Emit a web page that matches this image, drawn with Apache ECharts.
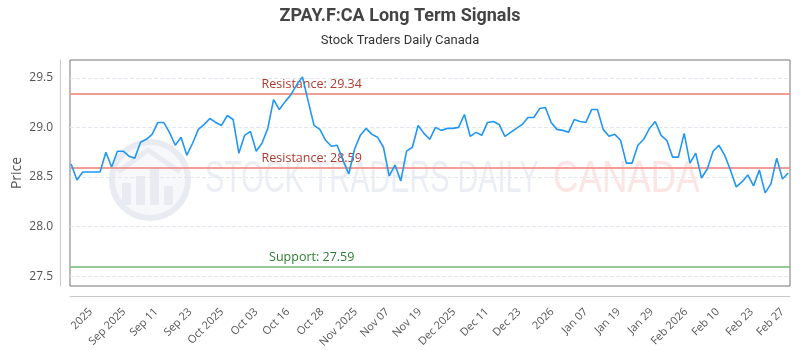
<!DOCTYPE html>
<html>
<head>
<meta charset="utf-8">
<script src="https://cdn.jsdelivr.net/npm/echarts@6/dist/echarts.min.js"></script>
<style>html,body{margin:0;padding:0;background:#fff}#c{width:800px;height:350px}</style>
</head>
<body>
<div id="c"></div>
<script>
// Daily closing prices (index 0..124)
const prices = [
28.63,28.47,28.55,28.55,28.55,28.55,28.75,28.60,28.76,28.76,
28.71,28.69,28.85,28.88,28.93,29.05,29.05,28.95,28.82,28.90,
28.72,28.84,28.98,29.03,29.09,29.05,29.02,29.12,29.08,28.74,
28.92,28.96,28.76,28.84,28.99,29.28,29.18,29.26,29.33,29.43,
29.51,29.26,29.02,28.98,28.87,28.81,28.82,28.67,28.53,28.78,
28.92,28.99,28.93,28.90,28.80,28.51,28.62,28.46,28.76,28.80,
29.02,28.94,28.88,29.00,28.97,28.99,28.99,29.00,29.13,28.91,
28.95,28.92,29.05,29.06,29.03,28.91,28.95,28.99,29.03,29.10,
29.10,29.19,29.20,29.05,28.98,28.97,28.95,29.08,29.06,29.05,
29.18,29.18,28.98,28.91,28.93,28.87,28.64,28.64,28.82,28.88,
28.99,29.06,28.92,28.87,28.70,28.70,28.94,28.64,28.74,28.49,
28.58,28.76,28.82,28.72,28.57,28.40,28.45,28.52,28.41,28.57,
28.34,28.43,28.69,28.48,28.54
];
// X-axis tick labels and their positions (in data index units)
const xTickLabels = ["2025","Sep 2025","Sep 11","Sep 23","Oct 2025","Oct 03","Oct 16","Oct 28","Nov 2025","Nov 07","Nov 19","Dec 2025","Dec 11","Dec 23","2026","Jan 07","Jan 19","Jan 29","Feb 2026","Feb 10","Feb 23","Feb 27"];
const xTickPos = [3.4,9.15,14.7,20.6,26.1,32.0,37.5,43.4,49.2,54.7,60.3,66.2,71.9,77.5,83.2,89.0,94.7,100.4,106.3,111.8,117.7,123.0];
// Y-axis ticks
const yTicks = [27.5,28.0,28.5,29.0,29.5];
// Signal levels
const resistanceLevels = [29.34, 28.59];
const supportLevels = [27.59];
const title = "ZPAY.F:CA Long Term Signals";
const subtitle = "Stock Traders Daily Canada";

const data = prices.map((v, i) => [i, v]);
const labelIdx = 41.6;

const chart = echarts.init(document.getElementById('c'), null, {renderer: 'canvas'});

const markLineData = [];
const markPointData = [];
resistanceLevels.forEach(v => {
  markLineData.push({yAxis: v, lineStyle: {color: '#f4928c', width: 2, type: 'solid', opacity: 0.9}});
  markPointData.push({coord: [labelIdx, v], value: 'Resistance: ' + v.toFixed(2), label: {color: '#b03a2e'}});
});
supportLevels.forEach(v => {
  markLineData.push({yAxis: v, lineStyle: {color: '#8cc38c', width: 2, type: 'solid', opacity: 0.9}});
  markPointData.push({coord: [labelIdx, v], value: 'Support: ' + v.toFixed(2), label: {color: '#2e7d32'}});
});

const option = {
  backgroundColor: '#fff',
  animation: false,
  title: {
    text: title,
    subtext: subtitle,
    left: 'center',
    top: 2,
    itemGap: 9,
    textStyle: {fontFamily: '"Liberation Sans Narrow", "Roboto", sans-serif', fontSize: 18, fontWeight: 'bold', color: '#444'},
    subtextStyle: {fontFamily: '"Liberation Sans Narrow", "Roboto", sans-serif', fontSize: 13, color: '#333'}
  },
  graphic: [
    {type: 'group', silent: true, z: -1, children: [
      {type: 'circle', shape: {cx: 150, cy: 180, r: 38}, style: {fill: '#f6f8fb', stroke: '#e8ecf2', lineWidth: 6}},
      {type: 'rect', shape: {x: 122, y: 183, width: 9, height: 22}, style: {fill: '#e8ecf2'}},
      {type: 'rect', shape: {x: 136, y: 176, width: 9, height: 29}, style: {fill: '#e8ecf2'}},
      {type: 'rect', shape: {x: 150, y: 169, width: 9, height: 36}, style: {fill: '#e8ecf2'}},
      {type: 'rect', shape: {x: 164, y: 186, width: 9, height: 19}, style: {fill: '#e8ecf2'}},
      {type: 'polyline', shape: {points: [[118,172],[148,150],[180,172]]}, style: {stroke: '#e8ecf2', lineWidth: 5, fill: 'none'}},
      {type: 'text', x: 205, y: 180, scaleX: 0.655, style: {text: 'STOCK TRADERS DAILY', font: '44px "Liberation Sans Narrow", sans-serif', fill: '#ebeef4', verticalAlign: 'middle', align: 'left'}},
      {type: 'text', x: 553, y: 180, scaleX: 0.8, style: {text: 'CANADA', font: '44px "Liberation Sans Narrow", sans-serif', fill: '#fde5e5', verticalAlign: 'middle', align: 'left'}}
    ]},
    {type: 'line', silent: true, shape: {x1: 60.5, y1: 60, x2: 60.5, y2: 286}, style: {stroke: '#c8c8c8', lineWidth: 1}},
    {type: 'line', silent: true, shape: {x1: 70, y1: 296.5, x2: 790, y2: 296.5}, style: {stroke: '#c8c8c8', lineWidth: 1}}
  ],
  grid: {left: 70, right: 10, top: 60, bottom: 64, show: true, borderColor: '#777', borderWidth: 1, backgroundColor: 'transparent', containLabel: false, outerBoundsMode: 'none'},
  xAxis: {
    type: 'value',
    min: -0.2,
    max: 124.3,
    offset: 10,
    axisLine: {show: true, onZero: false, lineStyle: {color: '#c8c8c8', width: 1}},
    axisTick: {show: false},
    splitLine: {show: false},
    axisLabel: {
      customValues: xTickPos,
      rotate: 45,
      margin: 14,
      fontFamily: '"Open Sans", sans-serif',
      fontSize: 11,
      color: '#555',
      formatter: (v) => { const k = xTickPos.indexOf(v); return k >= 0 ? xTickLabels[k] : ''; }
    }
  },
  yAxis: {
    type: 'value',
    min: 27.4,
    max: 29.68,
    offset: 10,
    name: 'Price',
    nameLocation: 'middle',
    nameGap: 36,
    nameMoveOverlap: false,
    nameTextStyle: {fontFamily: '"Open Sans", sans-serif', fontSize: 14, color: '#555'},
    axisLine: {show: true, onZero: false, lineStyle: {color: '#c8c8c8', width: 1}},
    axisTick: {show: false, customValues: yTicks},
    splitLine: {show: true, lineStyle: {color: '#e3e7ee', type: 'dashed', width: 1}},
    axisLabel: {
      customValues: yTicks,
      margin: 7,
      fontFamily: '"Open Sans", sans-serif',
      fontSize: 12,
      color: '#555',
      formatter: (v) => v.toFixed(1)
    }
  },
  series: [{
    type: 'line',
    data: data,
    showSymbol: false,
    symbol: 'none',
    lineStyle: {color: '#2196f3', width: 1.6},
    itemStyle: {color: '#2196f3'},
    z: 5,
    markLine: {
      silent: true,
      symbol: ['none', 'none'],
      label: {show: false},
      data: markLineData
    },
    markPoint: {
      silent: true,
      symbol: 'circle',
      symbolSize: 0,
      itemStyle: {color: 'transparent'},
      label: {show: true, position: 'top', distance: 3, fontFamily: '"Open Sans", sans-serif', fontSize: 12.5, formatter: (p) => p.value},
      data: markPointData
    }
  }]
};
chart.setOption(option);
</script>
</body>
</html>
